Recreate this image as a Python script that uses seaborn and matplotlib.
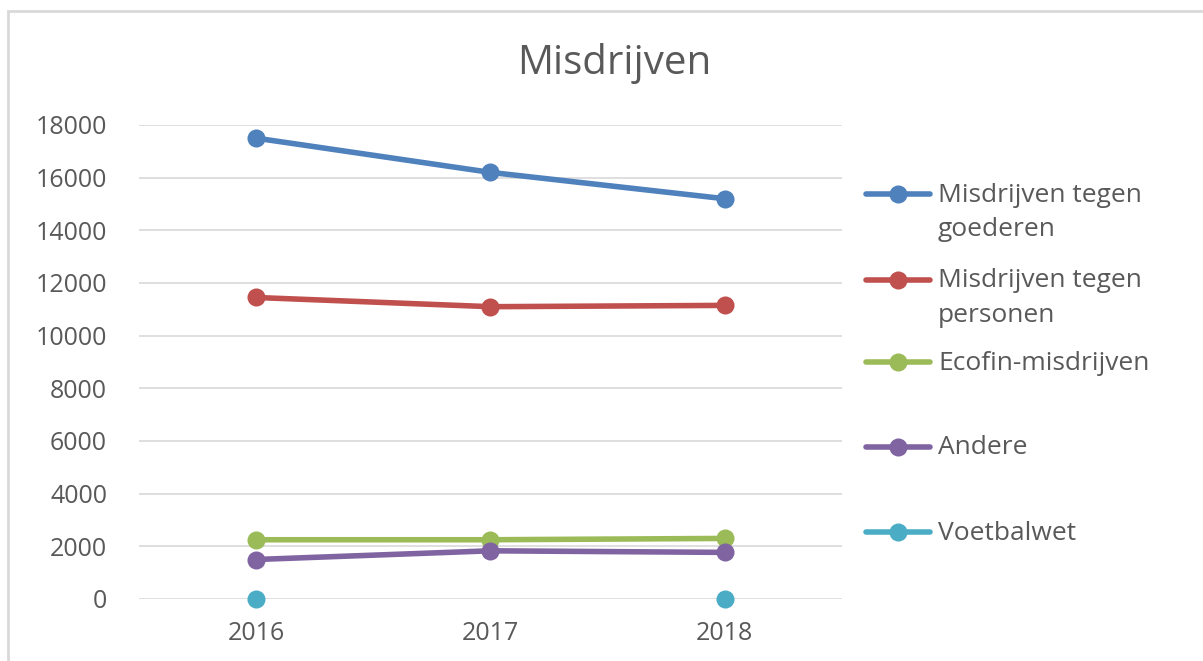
import numpy as np
import pandas as pd
import seaborn as sns
import matplotlib as mpl
from matplotlib import pyplot as plt
from matplotlib.lines import Line2D
from matplotlib.patches import Rectangle

years = ["2016", "2017", "2018"]
goederen = [17500, 16200, 15200]
personen = [11450, 11100, 11150]
ecofin = [2250, 2250, 2300]
andere = [1500, 1830, 1770]
voetbalwet = [0, np.nan, 0]

series_names = ["Misdrijven tegen goederen", "Misdrijven tegen personen",
                "Ecofin-misdrijven", "Andere", "Voetbalwet"]
legend_labels = ["Misdrijven tegen\ngoederen", "Misdrijven tegen\npersonen",
                 "Ecofin-misdrijven", "Andere", "Voetbalwet"]
colors = ["#4F81BD", "#C0504D", "#9BBB59", "#8064A2", "#4BACC6"]

sns.set_style("white")
plt.rcParams["font.family"] = ["Open Sans", "DejaVu Sans"]
text_color = "#595959"

rows = []
for name, vals in zip(series_names, [goederen, personen, ecofin, andere, voetbalwet]):
    seg = 0
    for i, (yr, v) in enumerate(zip(years, vals)):
        if pd.isna(v):
            seg += 1
            continue
        rows.append({"series": name, "pos": i, "year": yr, "value": v,
                     "seg": f"{name}_{seg}"})
df = pd.DataFrame(rows)

fig = plt.figure(figsize=(12.03, 6.61), dpi=100)
ax = fig.add_axes([139 / 1203, 62 / 661, 703 / 1203, 474 / 661])

sns.lineplot(data=df, x="pos", y="value", hue="series", units="seg",
             estimator=None, hue_order=series_names, palette=colors,
             marker="o", markersize=13, markeredgewidth=0, linewidth=4,
             legend=False, ax=ax)
for ln in ax.lines:
    ln.set_clip_on(False)
    ln.set_solid_capstyle("round")

ax.set_xlim(-0.5, 2.5)
ax.set_ylim(0, 18000)
ax.set_yticks(range(0, 18001, 2000))
ax.set_xticks(range(len(years)))
ax.set_xticklabels(years)
ax.set_xlabel("")
ax.set_ylabel("")
ax.grid(axis="y", color="#D9D9D9", linewidth=1.2)
ax.set_axisbelow(True)
for s in ax.spines.values():
    s.set_visible(False)
ax.tick_params(axis="both", length=0, labelsize=18, colors=text_color)
ax.tick_params(axis="y", pad=23)
ax.tick_params(axis="x", pad=16)

fig.text(614 / 1203, 1 - 63 / 661, "Misdrijven", ha="center", va="center",
         fontsize=29, color=text_color)

# legend drawn to match the spreadsheet layout
leg_y = [194, 280, 362, 447, 532]
for lab, col, y in zip(legend_labels, colors, leg_y):
    yf = 1 - y / 661
    fig.add_artist(Line2D([866 / 1203, 930 / 1203], [yf, yf], color=col,
                          linewidth=4, solid_capstyle="round",
                          transform=fig.transFigure))
    fig.add_artist(Line2D([898 / 1203], [yf], marker="o", markersize=13,
                          markeredgewidth=0, color=col,
                          transform=fig.transFigure))
    for k, part in enumerate(lab.split("\n")):
        fig.text(938 / 1203, 1 - (y + 1 + 34 * k) / 661, part, ha="left",
                 va="center", fontsize=19, color=text_color)

fig.add_artist(Rectangle((8 / 1203, -0.1), 1.2, 1 - 11 / 661 + 0.1,
                         transform=fig.transFigure, fill=False,
                         edgecolor="#D9D9D9", linewidth=2))

fig.savefig("out.png", dpi=100)
